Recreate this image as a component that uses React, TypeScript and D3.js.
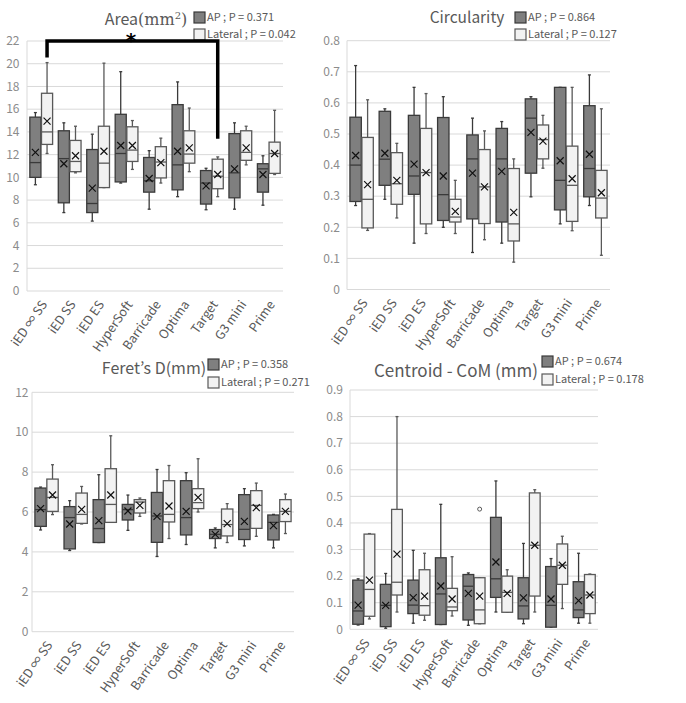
import React from "react";
import * as d3 from "d3";

const categories = ["iED ∞ SS", "iED SS", "iED ES", "HyperSoft", "Barricade", "Optima", "Target", "G3 mini", "Prime"];
const seriesNames = ["AP", "Lateral"];

// each row: [min, q1, median, q3, max, mean]
const areaAP = [
  [9.35, 10.0, 11.3, 15.3, 15.7, 12.2],
  [6.9, 7.76, 11.65, 14.1, 14.8, 11.2],
  [6.15, 6.9, 7.7, 12.45, 13.8, 9.05],
  [9.5, 9.6, 12.1, 15.55, 19.3, 12.8],
  [7.2, 8.7, 9.7, 11.75, 12.35, 9.9],
  [8.3, 8.9, 11.1, 16.4, 18.4, 12.3],
  [7.15, 7.65, 9.5, 10.6, 10.8, 9.25],
  [7.2, 8.2, 10.4, 13.85, 14.8, 10.75],
  [7.55, 8.7, 10.75, 11.2, 11.9, 10.25],
];
const areaLat = [
  [12.1, 12.9, 14.0, 17.4, 20.1, 14.95],
  [10.4, 10.5, 11.4, 13.25, 14.5, 11.9],
  [9.1, 9.1, 11.25, 14.5, 20.05, 12.3],
  [10.7, 11.4, 12.4, 14.45, 15.0, 12.8],
  [9.5, 9.95, 11.35, 12.7, 13.45, 11.3],
  [10.5, 11.25, 12.05, 14.1, 16.1, 12.6],
  [8.3, 9.0, 10.1, 11.6, 11.8, 10.25],
  [11.1, 11.5, 12.2, 14.1, 14.5, 12.6],
  [10.25, 10.35, 12.1, 13.1, 15.9, 12.1],
];
const circAP = [
  [0.27, 0.283, 0.4, 0.554, 0.72, 0.431],
  [0.29, 0.335, 0.419, 0.573, 0.581, 0.438],
  [0.149, 0.306, 0.365, 0.56, 0.65, 0.403],
  [0.2, 0.222, 0.305, 0.553, 0.62, 0.365],
  [0.119, 0.227, 0.42, 0.497, 0.551, 0.374],
  [0.149, 0.217, 0.42, 0.518, 0.54, 0.38],
  [0.298, 0.374, 0.551, 0.613, 0.62, 0.505],
  [0.211, 0.256, 0.351, 0.65, 0.65, 0.414],
  [0.27, 0.298, 0.389, 0.591, 0.69, 0.435],
];
const circLat = [
  [0.19, 0.198, 0.29, 0.489, 0.61, 0.337],
  [0.23, 0.274, 0.34, 0.44, 0.47, 0.351],
  [0.18, 0.211, 0.376, 0.518, 0.63, 0.376],
  [0.18, 0.217, 0.233, 0.29, 0.351, 0.251],
  [0.16, 0.212, 0.33, 0.45, 0.51, 0.33],
  [0.088, 0.156, 0.211, 0.389, 0.42, 0.248],
  [0.39, 0.42, 0.482, 0.529, 0.56, 0.477],
  [0.189, 0.219, 0.335, 0.461, 0.65, 0.356],
  [0.11, 0.23, 0.294, 0.383, 0.581, 0.311],
];
const feretAP = [
  [5.1, 5.28, 6.12, 7.2, 7.25, 6.17],
  [4.07, 4.15, 5.72, 6.27, 6.57, 5.4],
  [4.47, 4.47, 5.17, 6.62, 7.87, 5.57],
  [5.08, 5.6, 6.12, 6.38, 6.85, 6.05],
  [3.77, 4.48, 5.8, 6.98, 8.13, 5.78],
  [4.37, 4.85, 5.72, 7.57, 7.97, 6.03],
  [4.2, 4.67, 4.88, 5.12, 5.2, 4.88],
  [4.3, 4.62, 5.13, 6.87, 7.17, 5.53],
  [4.2, 4.6, 5.48, 5.85, 5.88, 5.32],
];
const feretLat = [
  [5.87, 6.03, 6.73, 7.65, 8.37, 6.85],
  [5.4, 5.43, 5.88, 6.95, 7.28, 6.13],
  [5.48, 5.48, 6.38, 8.17, 9.82, 6.85],
  [5.78, 5.95, 6.5, 6.62, 6.7, 6.33],
  [4.67, 5.5, 5.88, 7.57, 8.33, 6.3],
  [6.0, 6.17, 6.47, 7.17, 8.67, 6.73],
  [4.47, 4.8, 5.37, 6.15, 6.42, 5.42],
  [4.78, 5.18, 6.33, 7.07, 7.45, 6.22],
  [4.92, 5.52, 6.03, 6.62, 6.9, 6.03],
];
const comAP = [
  [0.016, 0.019, 0.069, 0.185, 0.19, 0.091],
  [0.004, 0.01, 0.09, 0.169, 0.21, 0.09],
  [0.023, 0.059, 0.091, 0.185, 0.297, 0.119],
  [0.018, 0.018, 0.133, 0.269, 0.47, 0.163],
  [0.015, 0.035, 0.162, 0.206, 0.212, 0.135],
  [0.065, 0.12, 0.19, 0.421, 0.558, 0.253],
  [0.021, 0.039, 0.088, 0.194, 0.323, 0.118],
  [0.008, 0.008, 0.09, 0.236, 0.266, 0.114],
  [0.023, 0.044, 0.073, 0.179, 0.286, 0.108],
];
const comLat = [
  [0.039, 0.049, 0.15, 0.358, 0.36, 0.185],
  [0.065, 0.129, 0.177, 0.451, 0.8, 0.283],
  [0.034, 0.053, 0.089, 0.224, 0.286, 0.125],
  [0.05, 0.07, 0.084, 0.154, 0.273, 0.114],
  [0.021, 0.021, 0.073, 0.194, 0.194, 0.125],
  [0.064, 0.064, 0.139, 0.2, 0.224, 0.135],
  [0.065, 0.125, 0.316, 0.513, 0.525, 0.316],
  [0.078, 0.169, 0.241, 0.321, 0.35, 0.241],
  [0.023, 0.059, 0.129, 0.206, 0.208, 0.129],
];
const comOutliers = [{ cat: 4, series: 1, value: 0.452 }];

const areaTicks = d3.range(0, 23, 2);
const circTicks = d3.range(0, 9).map((i) => i / 10);
const feretTicks = d3.range(0, 13, 2);
const comTicks = d3.range(0, 10).map((i) => i / 10);

const areaP = ["0.371", "0.042"];
const circP = ["0.864", "0.127"];
const feretP = ["0.358", "0.271"];
const comP = ["0.674", "0.178"];

const FONT = "'Noto Sans CJK JP', 'Noto Sans', sans-serif";
const TXT = "#595959";
const TICK = "#8c8c8c";
const GRID = "#d9d9d9";
const FILLS = ["#7f7f7f", "#f2f2f2"];
const STROKES = ["#3a3a3a", "#595959"];

type PanelProps = {
  x0: number; x1: number; yTop: number; yBot: number; maxV: number;
  ticks: number[]; fmt: (v: number) => string; tickX: number;
  ap: number[][]; lat: number[][]; outliers?: { cat: number; series: number; value: number }[];
  title: React.ReactNode; titleX: number; titleY: number; titleSize: number;
  legX: number; legY: number; pvals: string[]; legGap: number;
};

function Panel(p: PanelProps) {
  const x = d3.scaleBand<string>().domain(categories).range([p.x0, p.x1]).padding(0);
  const y = d3.scaleLinear().domain([0, p.maxV]).range([p.yBot, p.yTop]);
  const bw = x.bandwidth();
  const boxW = bw * 0.39;
  const offs = [-bw * 0.205, bw * 0.205];
  const data = [p.ap, p.lat];
  return (
    <g>
      {p.ticks.map((t) => (
        <g key={t}>
          <line x1={p.x0} x2={p.x1} y1={y(t)} y2={y(t)} stroke={GRID} strokeWidth={1} />
          <text x={p.tickX} y={y(t)} dy="0.35em" textAnchor="end" fontSize={12} fill={TICK} fontFamily={FONT}>{p.fmt(t)}</text>
        </g>
      ))}
      <line x1={p.x0} x2={p.x0} y1={p.yTop} y2={p.yBot} stroke={GRID} strokeWidth={1} />
      {categories.map((c, ci) => {
        const cx = (x(c) as number) + bw / 2;
        return (
          <g key={c}>
            {data.map((arr, si) => {
              const [mn, q1, md, q3, mx, mean] = arr[ci];
              const bx = cx + offs[si];
              const m = y(mean);
              return (
                <g key={si}>
                  <line x1={bx} x2={bx} y1={y(mx)} y2={y(q3)} stroke={STROKES[si]} strokeWidth={1.3} />
                  <line x1={bx} x2={bx} y1={y(q1)} y2={y(mn)} stroke={STROKES[si]} strokeWidth={1.3} />
                  <line x1={bx - 1.5} x2={bx + 1.5} y1={y(mx)} y2={y(mx)} stroke={STROKES[si]} strokeWidth={1.3} />
                  <line x1={bx - 1.5} x2={bx + 1.5} y1={y(mn)} y2={y(mn)} stroke={STROKES[si]} strokeWidth={1.3} />
                  <rect x={bx - boxW / 2} y={y(q3)} width={boxW} height={Math.max(0.5, y(q1) - y(q3))} fill={FILLS[si]} stroke={STROKES[si]} strokeWidth={1.3} />
                  <line x1={bx - boxW / 2} x2={bx + boxW / 2} y1={y(md)} y2={y(md)} stroke={STROKES[si]} strokeWidth={1.3} />
                  <path d={`M${bx - 3.5},${m - 3.5}L${bx + 3.5},${m + 3.5}M${bx - 3.5},${m + 3.5}L${bx + 3.5},${m - 3.5}`} stroke="#111" strokeWidth={1.2} fill="none" />
                </g>
              );
            })}
            <text transform={`translate(${cx + 3},${p.yBot + 11}) rotate(-55)`} textAnchor="end" dy="0.35em" fontSize={12.5} fill={TXT} fontFamily={FONT}>{c}</text>
          </g>
        );
      })}
      {(p.outliers || []).map((o, i) => (
        <circle key={i} cx={(x(categories[o.cat]) as number) + bw / 2 + offs[o.series]} cy={y(o.value)} r={2} fill="none" stroke={STROKES[o.series]} strokeWidth={1} />
      ))}
      <text x={p.titleX} y={p.titleY} textAnchor="middle" dy="0.35em" fontSize={p.titleSize} fill={TXT} fontFamily={FONT}>{p.title}</text>
      {seriesNames.map((s, si) => (
        <g key={s}>
          <rect x={p.legX} y={p.legY + si * p.legGap} width={11} height={11} fill={FILLS[si]} stroke={STROKES[si]} strokeWidth={1.2} />
          <text x={p.legX + 13} y={p.legY + si * p.legGap + 5.5} dy="0.35em" fontSize={11} fill={TXT} fontFamily={FONT}>{`${s} ; P = ${p.pvals[si]}`}</text>
        </g>
      ))}
    </g>
  );
}

export default function App() {
  const fmtInt = (v: number) => d3.format("d")(v);
  const fmt1 = (v: number) => (v === 0 ? "0" : d3.format(".1f")(v));
  const yArea = d3.scaleLinear().domain([0, 22]).range([291, 41]);
  const bArea = d3.scaleBand<string>().domain(categories).range([27, 283]);
  const bwA = bArea.bandwidth();
  const lx = (bArea(categories[0]) as number) + bwA / 2 + bwA * 0.205;
  const rx = (bArea(categories[6]) as number) + bwA / 2 + bwA * 0.205;
  return (
    <div style={{ position: "absolute", left: 0, top: 0 }}>
      <svg width={686} height={703} style={{ display: "block", background: "#fff" }}>
        <Panel x0={27} x1={283} yTop={41} yBot={291} maxV={22} ticks={areaTicks} fmt={fmtInt} tickX={19.5}
          ap={areaAP} lat={areaLat}
          title={<><tspan>Area</tspan><tspan fontFamily="'DejaVu Serif', serif">(mm</tspan><tspan fontFamily="'DejaVu Serif', serif" fontSize={10} dy="-6">2</tspan><tspan fontFamily="'DejaVu Serif', serif" dy="6">)</tspan></>}
          titleX={146} titleY={19} titleSize={16} legX={194} legY={12} legGap={17} pvals={areaP} />
        <path d={`M${lx},${yArea(20.55)}V${yArea(22)}H${rx}V${yArea(13.4)}`} fill="none" stroke="#000" strokeWidth={3.5} />
        <text x={131} y={47} textAnchor="middle" fontSize={20} fontWeight="bold" fill="#000" fontFamily="'DejaVu Sans', sans-serif">*</text>
        <Panel x0={347} x1={610} yTop={40.7} yBot={289.5} maxV={0.8} ticks={circTicks} fmt={fmt1} tickX={340}
          ap={circAP} lat={circLat}
          title="Circularity" titleX={467} titleY={18} titleSize={15.5} legX={515} legY={12} legGap={17} pvals={circP} />
        <Panel x0={32} x1={294} yTop={392.3} yBot={631.7} maxV={12} ticks={feretTicks} fmt={fmtInt} tickX={28.5}
          ap={feretAP} lat={feretLat}
          title="Feret’s D(mm)" titleX={154} titleY={368} titleSize={16} legX={208} legY={359} legGap={18} pvals={feretP} />
        <Panel x0={350} x1={598} yTop={390} yBot={629.3} maxV={0.9} ticks={comTicks} fmt={fmt1} tickX={343}
          ap={comAP} lat={comLat} outliers={comOutliers}
          title="Centroid - CoM (mm)" titleX={456} titleY={371} titleSize={17} legX={542} legY={356} legGap={18} pvals={comP} />
      </svg>
    </div>
  );
}
